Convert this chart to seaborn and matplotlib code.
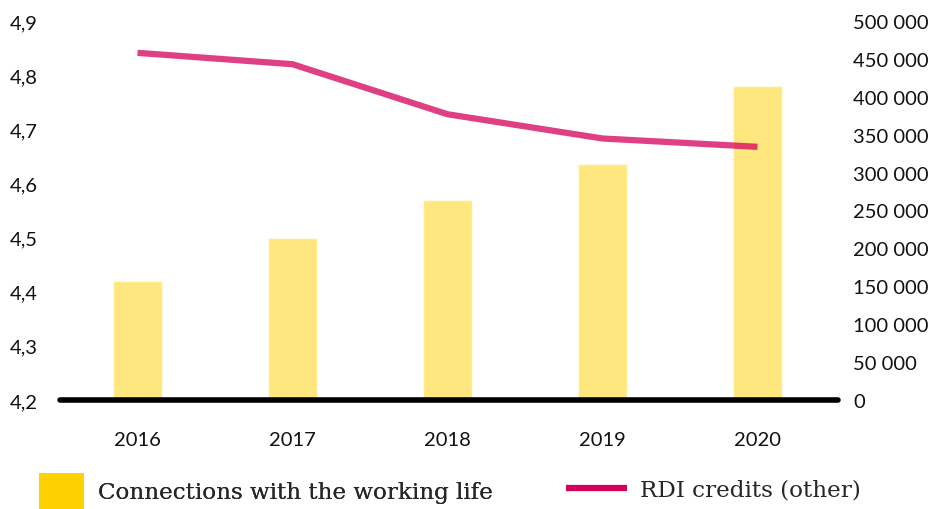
import matplotlib
matplotlib.use("Agg")
import matplotlib.pyplot as plt
import seaborn as sns
import numpy as np
import pandas as pd
from matplotlib.ticker import FuncFormatter, MultipleLocator
from matplotlib.patches import Patch
from matplotlib.lines import Line2D

years = ["2016", "2017", "2018", "2019", "2020"]
connections = [4.42, 4.50, 4.57, 4.635, 4.78]
rdi_credits = [458000, 443000, 377000, 345000, 334000]
bar_label = "Connections with the working life"
line_label = "RDI credits (other)"

sns.set_theme(style="white")
plt.rcParams["font.family"] = ["Lato", "DejaVu Sans"]

fig = plt.figure(figsize=(9.38, 5.10), dpi=100)
ax = fig.add_axes([60/938, 1-401/510, 775/938, 379/510])

df = pd.DataFrame({"year": years, "conn": connections, "rdi": rdi_credits})
sns.barplot(data=df, x="year", y="conn", ax=ax, color="#FFD100", alpha=0.5,
            width=0.32, saturation=1)
ax.set_ylim(4.2, 4.9)
ax.yaxis.set_major_locator(MultipleLocator(0.1))
ax.yaxis.set_major_formatter(FuncFormatter(lambda v, p: f"{v:.1f}".replace(".", ",")))
ax.set_xlabel("")
ax.set_ylabel("")

ax2 = ax.twinx()
sns.lineplot(x=np.arange(len(years)), y=df["rdi"], ax=ax2, color="#D5005A",
             alpha=0.75, linewidth=4.5, solid_capstyle="butt")
ax2.set_ylim(0, 500000)
ax2.yaxis.set_major_locator(MultipleLocator(50000))
ax2.yaxis.set_major_formatter(FuncFormatter(lambda v, p: f"{int(v):,}".replace(",", " ")))
ax2.set_ylabel("")
ax.set_xlim(-0.5, len(years) - 0.5)

for a in (ax, ax2):
    for s in ["top", "left", "right", "bottom"]:
        a.spines[s].set_visible(False)
    a.grid(False)
ax.axhline(4.2, xmin=0, xmax=778/775, color="black", linewidth=4, clip_on=False, zorder=5)

ax.tick_params(axis="y", length=0, pad=36, labelsize=14.5, colors="#111111")
for t in ax.get_yticklabels():
    t.set_horizontalalignment("left")
ax2.tick_params(axis="y", length=0, pad=13, labelsize=14.5, colors="#111111")
ax.tick_params(axis="x", length=0, pad=22, labelsize=14.5, colors="#111111")

leg1 = fig.legend(handles=[Patch(facecolor="#FFD100", edgecolor="none")], labels=[bar_label],
                  loc="center left", bbox_to_anchor=(18/938, 1-492/510), frameon=False,
                  handlelength=1.95, handleheight=2.05, handletextpad=0.62,
                  prop={"family": "DejaVu Serif", "size": 16.6})
leg2 = fig.legend(handles=[Line2D([], [], color="#D5005A", linewidth=4.5, solid_capstyle="butt")],
                  labels=[line_label],
                  loc="center left", bbox_to_anchor=(545/938, 1-491/510), frameon=False,
                  handlelength=2.65, handletextpad=0.55,
                  prop={"family": "DejaVu Serif", "size": 16.6})
fig.add_artist(leg1)

fig.savefig("out.png", dpi=100)
